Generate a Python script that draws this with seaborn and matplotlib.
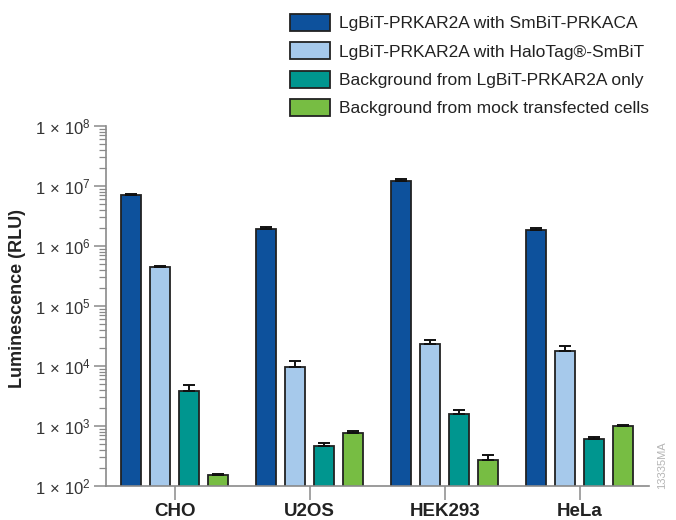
import numpy as np
import pandas as pd
import matplotlib
matplotlib.use("Agg")
import matplotlib.pyplot as plt
from matplotlib.ticker import LogLocator, FixedLocator, FuncFormatter, NullFormatter
import seaborn as sns

# Cell lines and measured luminescence (RLU), mean and upper error
cells = ["CHO", "U2OS", "HEK293", "HeLa"]
series = [
    "LgBiT-PRKAR2A with SmBiT-PRKACA",
    "LgBiT-PRKAR2A with HaloTag\u00ae-SmBiT",
    "Background from LgBiT-PRKAR2A only",
    "Background from mock transfected cells",
]
smbit_prkaca = [7.2e6, 1.94e6, 1.23e7, 1.85e6]
halotag_smbit = [4.5e5, 9.7e3, 2.35e4, 1.8e4]
lgbit_only = [3.9e3, 470, 1560, 607]
mock = [151, 755, 275, 987]

smbit_prkaca_err = [2.5e5, 1.5e5, 9e5, 1.7e5]
halotag_smbit_err = [2.0e4, 2400, 4000, 3800]
lgbit_only_err = [1000, 57, 260, 56]
mock_err = [10, 80, 57, 65]

colors = ["#0D519C", "#A6C9EB", "#00968F", "#77BD43"]

values = [smbit_prkaca, halotag_smbit, lgbit_only, mock]
errors = [smbit_prkaca_err, halotag_smbit_err, lgbit_only_err, mock_err]

df = pd.DataFrame({
    "cell": [c for _ in series for c in cells],
    "series": [s for s in series for _ in cells],
    "rlu": [v for vals in values for v in vals],
    "err": [e for errs in errors for e in errs],
})

sns.set_style("white")
plt.rcParams["font.family"] = ["Liberation Sans", "DejaVu Sans"]
plt.rcParams["mathtext.fontset"] = "custom"
plt.rcParams["mathtext.rm"] = "Liberation Sans"
plt.rcParams["mathtext.it"] = "Liberation Sans"

fig = plt.figure(figsize=(6.76, 5.2), dpi=100)
ax = fig.add_axes([106 / 676, 34 / 520, 543 / 676, 360 / 520])

sns.barplot(
    data=df, x="cell", y="rlu", hue="series", order=cells, hue_order=series,
    palette=colors, width=0.86, gap=0.31, errorbar=None, ax=ax,
    edgecolor="#222222", linewidth=1.3, saturation=1,
)
ax.set_yscale("log")
ax.set_ylim(1e2, 1e8)
ax.set_xlim(-0.51, 3.513)

# Upper error bars at each bar top
for cont, errs in zip(ax.containers, errors):
    for rect, e in zip(cont.patches, errs):
        xc = rect.get_x() + rect.get_width() / 2
        h = rect.get_height()
        ax.errorbar(xc, h, yerr=[[0], [e]], fmt="none", ecolor="#111111",
                    elinewidth=1.4, capsize=4, capthick=1.4, zorder=1)

# Axes styling
for side in ["top", "right"]:
    ax.spines[side].set_visible(False)
for side in ["left", "bottom"]:
    ax.spines[side].set_color("#8a8a8a")
    ax.spines[side].set_linewidth(1.2)

ax.yaxis.set_major_locator(FixedLocator([10.0 ** k for k in range(2, 9)]))
ax.yaxis.set_major_formatter(FuncFormatter(lambda v, p: r"$1\,\times\,10^{%d}$" % round(np.log10(v))))
ax.yaxis.set_minor_locator(LogLocator(base=10, subs=np.arange(2, 10)))
ax.yaxis.set_minor_formatter(NullFormatter())
ax.tick_params(axis="y", which="major", direction="out", length=9, width=1.1,
               color="#8a8a8a", labelsize=12, labelcolor="#333333", pad=2, left=True)
ax.tick_params(axis="y", which="minor", direction="out", length=5, width=0.9,
               color="#8a8a8a", left=True)
ax.tick_params(axis="x", which="major", direction="out", length=10, width=1.1,
               color="#8a8a8a", labelsize=13.5, pad=2, bottom=True)
for lbl in ax.get_xticklabels():
    lbl.set_fontweight("bold")
    lbl.set_color("#222222")

ax.set_xlabel("")
ax.set_ylabel("Luminescence (RLU)", fontsize=13, fontweight="bold", color="#222222")
ax.yaxis.set_label_coords(-0.147, 0.522)

# Legend above the plotting area
handles, labels = ax.get_legend_handles_labels()
ax.legend(handles, labels, loc="upper left", bbox_to_anchor=(290 / 676, 1 - 14 / 520),
          bbox_transform=fig.transFigure, frameon=False, fontsize=12.5,
          handlelength=2.3, handleheight=1.15, handletextpad=0.5, labelspacing=0.62,
          borderaxespad=0, borderpad=0)
for t in ax.get_legend().get_texts():
    t.set_color("#222222")

fig.text(662 / 676, 1 - 465 / 520, "13335MA", rotation=90, ha="center", va="center",
         fontsize=8, color="#b5b5b5")

fig.savefig("out.png", dpi=100)
